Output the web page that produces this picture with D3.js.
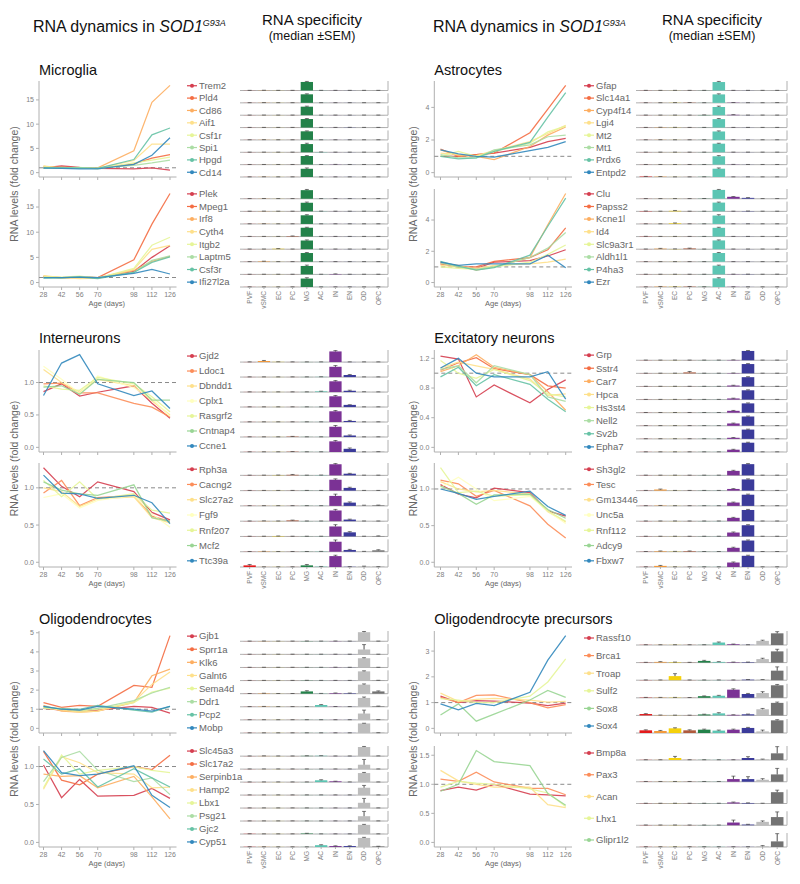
<!DOCTYPE html>
<html><head><meta charset="utf-8">
<script src="https://cdn.jsdelivr.net/npm/d3@7"></script>
<style>body{margin:0;background:#fff}svg{display:block}</style>
</head><body><svg id="c" width="800" height="884"></svg>
<script>
// ---------------- DATA ----------------
const ages=[28,42,56,70,98,112,126];
const cellTypes=["PVF","vSMC","EC","PC","MG","AC","IN","EN","OD","OPC"];
const cellColors=["#e41a1c","#f39a3c","#f5d10c","#b05a3c","#23824a","#5cc5b3","#7b3295","#3b3b9a","#bdbdbd","#737373"];
const spectral8=["#d53e4f","#f46d43","#fdae61","#fee08b","#e6f598","#abdda4","#66c2a5","#3288bd"];
const spectral7=["#d53e4f","#fc8d59","#fee08b","#ffffbf","#e6f598","#99d594","#3288bd"];
const spectral6=["#d53e4f","#fc8d59","#fee08b","#e6f598","#99d594","#3288bd"];

// Microglia
const mgGenesA=["Trem2","Pld4","Cd86","Aif1","Csf1r","Spi1","Hpgd","Cd14"];
const mgFoldA=[[1.0,1.4,1.1,0.9,0.8,1.0,0.5],[1.1,1.2,1.0,0.9,1.8,3.0,3.7],[1.3,1.0,0.9,1.0,4.5,14.5,18.0],[1.4,0.9,1.0,0.9,2.5,5.9,5.9],[1.2,1.0,1.1,0.8,2.0,2.6,3.2],[1.0,1.1,0.9,1.0,1.5,2.0,2.6],[0.9,1.0,1.0,0.9,2.7,7.8,9.2],[1.0,0.9,0.8,0.8,1.7,3.6,7.2]];
const mgSpecA=[[.01,.02,.01,.01,1,.01,.01,.01,.01,.01],[.01,.02,.01,.01,1,.01,.01,.01,.01,.01],[.01,.01,.01,.01,1,.01,.01,.01,.01,.01],[.01,.01,.01,.01,1,.01,.01,.02,.01,.01],[.01,.02,.01,.01,1,.01,.01,.01,.01,.01],[.01,.01,.01,.01,1,.03,.01,.01,.01,.01],[.01,.01,.01,.01,1,.01,.02,.01,.01,.01],[.01,.02,.01,.01,1,.01,.01,.01,.01,.01]];
const mgSemA=[[.01,.01,.01,.01,.06,.01,.01,.01,.01,.01],[.01,.01,.01,.01,.06,.01,.01,.01,.01,.01],[.01,.01,.01,.01,.06,.01,.01,.01,.01,.01],[.01,.01,.01,.01,.06,.01,.01,.01,.01,.01],[.01,.01,.01,.01,.05,.01,.01,.01,.01,.01],[.01,.01,.01,.01,.1,.01,.01,.01,.01,.01],[.01,.01,.01,.01,.05,.01,.01,.01,.01,.01],[.01,.01,.01,.01,.1,.01,.01,.01,.01,.01]];
const mgGenesB=["Plek","Mpeg1","Irf8","Cyth4","Itgb2","Laptm5","Csf3r","Ifi27l2a"];
const mgFoldB=[[1.2,1.0,1.0,0.9,2.2,5.0,7.3],[1.1,1.0,1.2,1.0,4.5,11.6,17.7],[1.3,0.9,1.1,1.0,2.4,4.2,5.2],[1.4,1.0,0.8,0.9,2.6,6.6,7.4],[1.2,1.1,1.3,0.9,2.8,7.4,9.0],[1.0,0.9,1.2,1.0,2.0,4.4,5.3],[0.9,1.0,1.1,0.8,2.0,4.0,5.1],[1.0,1.0,1.1,1.0,1.8,2.6,1.7]];
const mgSpecB=[[.01,.02,.01,.01,1,.01,.01,.01,.01,.01],[.01,.02,.01,.01,1,.02,.01,.01,.01,.01],[.01,.02,.01,.01,1,.01,.01,.01,.01,.01],[.01,.01,.01,.05,1,.01,.01,.01,.01,.01],[.01,.01,.05,.01,1,.01,.01,.01,.01,.01],[.01,.05,.01,.01,1,.01,.01,.01,.01,.01],[.01,.01,.01,.01,1,.01,.04,.01,.01,.01],[.01,.01,.01,.01,1,.01,.01,.01,.01,.01]];
const mgSemB=[[.01,.01,.01,.01,.08,.01,.01,.01,.01,.01],[.01,.01,.01,.01,.08,.01,.01,.01,.01,.01],[.01,.01,.01,.01,.07,.01,.01,.01,.01,.01],[.01,.01,.01,.02,.05,.01,.01,.01,.01,.01],[.01,.01,.02,.01,.07,.01,.01,.01,.01,.01],[.01,.02,.01,.01,.06,.01,.01,.01,.01,.01],[.01,.01,.01,.01,.1,.01,.02,.01,.01,.01],[.01,.01,.01,.01,.1,.01,.01,.01,.01,.01]];

// Astrocytes
const acGenesA=["Gfap","Slc14a1","Cyp4f14","Lgi4","Mt2","Mt1","Prdx6","Entpd2"];
const acFoldA=[[1.0,1.0,1.1,1.2,1.55,1.9,2.1],[1.45,1.0,1.1,1.2,2.45,3.9,5.35],[1.4,1.05,1.0,0.8,1.6,2.3,2.8],[1.2,1.1,1.05,1.35,1.9,2.4,2.9],[1.0,1.3,1.0,1.3,1.8,2.5,2.85],[1.1,0.9,0.9,1.4,1.7,2.2,2.3],[1.0,0.85,0.9,1.3,1.85,3.4,4.9],[1.4,1.15,1.0,0.95,1.35,1.55,1.9]];
const acSpecA=[[.01,.01,.01,.01,.01,1,.01,.01,.01,.01],[.01,.01,.02,.03,.01,1,.03,.01,.01,.02],[.01,.01,.01,.01,.03,1,.05,.01,.01,.01],[.01,.03,.02,.01,.01,1,.01,.01,.01,.01],[.01,.02,.01,.01,.01,1,.01,.01,.01,.01],[.01,.01,.01,.01,.01,1,.01,.01,.01,.01],[.01,.01,.01,.01,.01,1,.02,.01,.01,.01],[.05,.04,.01,.01,.02,1,.01,.01,.01,.01]];
const acSemA=[[.01,.01,.01,.01,.01,.07,.01,.01,.01,.01],[.01,.01,.01,.01,.01,.07,.01,.01,.01,.01],[.01,.01,.01,.01,.01,.1,.02,.01,.01,.01],[.01,.01,.01,.01,.01,.07,.01,.01,.01,.01],[.01,.01,.01,.01,.01,.07,.01,.01,.01,.01],[.01,.01,.01,.01,.01,.05,.01,.01,.01,.01],[.01,.01,.01,.01,.01,.08,.01,.01,.01,.01],[.02,.02,.01,.01,.01,.09,.01,.01,.01,.01]];
const acGenesB=["Clu","Papss2","Kcne1l","Id4","Slc9a3r1","Aldh1l1","P4ha3","Ezr"];
const acFoldB=[[1.2,1.0,0.9,1.3,1.4,1.7,2.1],[1.3,1.0,1.0,1.35,1.6,2.1,3.5],[1.2,1.1,0.8,1.0,1.6,3.7,5.7],[1.1,1.0,0.9,1.1,1.2,1.3,1.5],[1.0,0.9,0.85,1.0,1.3,1.8,2.4],[1.25,1.0,0.85,1.0,1.6,2.2,3.2],[1.35,1.05,0.8,0.95,1.75,3.6,5.4],[1.3,1.1,1.2,1.2,1.2,1.75,0.95]];
const acSpecB=[[.01,.01,.01,.01,.02,1,.22,.1,.01,.01],[.03,.01,.06,.01,.01,1,.01,.03,.01,.01],[.01,.01,.07,.01,.01,1,.01,.01,.01,.01],[.02,.01,.01,.01,.01,1,.01,.01,.01,.01],[.01,.06,.02,.08,.01,1,.01,.01,.01,.01],[.01,.01,.01,.01,.01,1,.01,.01,.01,.01],[.01,.01,.01,.01,.01,1,.02,.02,.01,.02],[.01,.04,.03,.04,.02,1,.02,.01,.01,.01]];
const acSemB=[[.01,.01,.01,.01,.01,.05,.03,.03,.01,.01],[.01,.01,.04,.01,.01,.06,.01,.01,.01,.01],[.01,.01,.05,.01,.01,.1,.01,.01,.01,.01],[.01,.01,.01,.01,.01,.06,.01,.01,.01,.01],[.01,.03,.01,.04,.01,.06,.01,.01,.01,.01],[.01,.01,.01,.01,.01,.06,.01,.01,.01,.01],[.01,.01,.01,.01,.01,.06,.01,.01,.01,.01],[.01,.02,.01,.02,.01,.07,.01,.01,.01,.01]];

// Interneurons
const inGenesA=["Gjd2","Ldoc1","Dbndd1","Cplx1","Rasgrf2","Cntnap4","Ccne1"];
const inFoldA=[[0.86,0.98,0.79,0.85,0.95,0.68,0.45],[0.98,0.99,0.84,0.84,0.68,0.62,0.47],[1.2,1.0,0.85,1.05,0.95,0.72,0.5],[1.25,1.05,0.83,1.1,0.92,0.75,0.48],[0.95,0.9,0.88,1.08,0.98,0.78,0.55],[0.93,0.95,0.82,1.05,1.0,0.73,0.73],[0.8,1.3,1.43,0.98,0.8,0.87,0.6]];
const inSpecA=[[.01,.1,.02,.01,.01,.01,1,.01,.01,.01],[.01,.01,.01,.01,.01,.02,1,.2,.01,.01],[.01,.01,.01,.01,.01,.06,1,.12,.02,.01],[.01,.01,.01,.01,.01,.01,1,.2,.01,.01],[.01,.01,.01,.01,.01,.01,1,.1,.01,.01],[.01,.01,.01,.04,.01,.01,1,.15,.01,.01],[.01,.01,.01,.03,.01,.01,1,.3,.01,.02]];
const inSemA=[[.01,.05,.01,.01,.01,.01,.08,.01,.01,.01],[.01,.01,.01,.01,.01,.01,.12,.05,.01,.01],[.01,.01,.01,.01,.01,.02,.07,.05,.01,.01],[.01,.01,.01,.01,.01,.01,.07,.02,.01,.01],[.01,.01,.01,.01,.01,.01,.07,.05,.01,.01],[.01,.01,.01,.02,.01,.01,.12,.05,.01,.01],[.01,.01,.01,.01,.01,.01,.08,.08,.01,.01]];
const inGenesB=["Rph3a","Cacng2","Slc27a2","Fgf9","Rnf207","Mcf2","Ttc39a"];
const inFoldB=[[1.27,1.02,0.88,1.08,0.95,0.67,0.57],[0.93,1.1,0.76,0.87,0.9,0.62,0.55],[1.0,0.95,0.75,0.85,0.88,0.6,0.53],[0.87,0.92,0.73,0.83,0.9,0.65,0.47],[1.1,0.88,1.08,0.85,0.92,0.7,0.66],[1.08,0.97,0.92,0.9,1.04,0.6,0.55],[1.17,0.93,0.92,0.86,0.9,0.8,0.52]];
const inSpecB=[[.01,.01,.02,.05,.01,.02,1,.15,.01,.01],[.01,.01,.01,.01,.01,.01,1,.25,.01,.01],[.01,.01,.01,.01,.01,.01,.85,.28,.04,.05],[.01,.02,.01,.07,.01,.01,1,.15,.01,.01],[.01,.01,.03,.01,.01,.01,.85,.35,.01,.03],[.01,.03,.01,.01,.01,.02,.85,.15,.02,.12],[.15,.01,.01,.01,.15,.03,1,.02,.05,.02]];
const inSemB=[[.01,.01,.01,.03,.01,.01,.06,.03,.01,.01],[.01,.01,.01,.01,.01,.01,.08,.06,.01,.01],[.01,.01,.01,.01,.01,.01,.15,.06,.02,.02],[.01,.01,.01,.03,.01,.01,.1,.04,.01,.01],[.01,.01,.01,.01,.01,.01,.15,.06,.01,.02],[.01,.01,.01,.01,.01,.01,.15,.05,.01,.05],[.08,.01,.01,.01,.08,.02,.08,.01,.03,.01]];

// Excitatory neurons
const enGenesA=["Grp","Sstr4","Car7","Hpca","Hs3st4","Nell2","Sv2b","Epha7"];
const enFoldA=[[1.23,1.19,0.68,0.84,0.6,0.78,0.91],[1.04,1.14,1.21,1.06,0.98,0.83,0.8],[1.02,1.1,1.25,1.08,0.98,0.75,0.5],[1.07,1.15,1.1,1.05,0.92,0.7,0.72],[1.17,1.0,0.93,1.05,0.9,0.72,0.68],[1.05,1.1,0.87,1.1,0.98,0.68,0.62],[0.95,1.08,0.83,0.98,0.85,0.65,0.48],[1.07,1.2,1.0,0.95,0.95,1.02,0.65]];
const enSpecA=[[.01,.01,.01,.01,.01,.01,.03,1,.01,.01],[.01,.01,.01,.1,.01,.01,.03,1,.01,.01],[.01,.01,.01,.01,.01,.01,.1,1,.01,.01],[.01,.01,.01,.01,.01,.01,.12,1,.01,.01],[.01,.01,.01,.01,.01,.01,.2,1,.01,.01],[.01,.01,.01,.01,.01,.01,.25,1,.01,.01],[.01,.01,.01,.01,.01,.01,.12,1,.01,.01],[.01,.01,.01,.01,.01,.01,.25,1,.01,.01]];
const enSemA=[[.01,.01,.01,.01,.01,.01,.01,.05,.01,.01],[.01,.01,.01,.1,.01,.01,.01,.05,.01,.01],[.01,.01,.01,.01,.01,.01,.03,.05,.01,.01],[.01,.01,.01,.01,.01,.01,.03,.05,.01,.01],[.01,.01,.01,.01,.01,.01,.04,.05,.01,.01],[.01,.01,.01,.01,.01,.01,.04,.05,.01,.01],[.01,.01,.01,.01,.01,.01,.03,.05,.01,.01],[.01,.01,.01,.01,.01,.01,.04,.05,.01,.01]];
const enGenesB=["Sh3gl2","Tesc","Gm13446","Unc5a","Rnf112","Adcy9","Fbxw7"];
const enFoldB=[[1.06,0.93,0.88,1.01,0.95,0.7,0.63],[1.12,1.07,0.9,0.98,0.77,0.52,0.33],[1.1,1.0,0.96,0.98,0.93,0.69,0.55],[1.02,1.16,1.0,0.84,0.9,0.7,0.53],[1.29,0.95,0.97,0.9,0.92,0.7,0.56],[1.04,0.94,0.79,0.92,0.93,0.72,0.6],[1.0,0.94,0.86,0.9,0.97,0.76,0.64]];
const enSpecB=[[.01,.01,.01,.01,.01,.01,.4,1,.01,.01],[.01,.1,.01,.01,.01,.01,.15,1,.01,.01],[.01,.03,.01,.01,.01,.01,.3,1,.01,.01],[.01,.01,.01,.01,.01,.01,.3,1,.01,.01],[.01,.01,.01,.01,.01,.01,.35,1,.01,.01],[.01,.05,.02,.05,.01,.01,.35,1,.01,.01],[.01,.1,.01,.01,.01,.01,.4,1,.01,.01]];
const enSemB=[[.01,.01,.01,.01,.01,.01,.05,.05,.01,.01],[.01,.04,.01,.01,.01,.01,.03,.05,.01,.01],[.01,.01,.01,.01,.01,.01,.04,.05,.01,.01],[.01,.01,.01,.01,.01,.01,.04,.05,.01,.01],[.01,.01,.01,.01,.01,.01,.05,.05,.01,.01],[.01,.02,.01,.02,.01,.01,.05,.05,.01,.01],[.01,.04,.01,.01,.01,.01,.05,.05,.01,.01]];

// Oligodendrocytes
const odGenesA=["Gjb1","Sprr1a","Klk6","Galnt6","Sema4d","Ddr1","Pcp2","Mobp"];
const odFoldA=[[1.05,0.95,0.9,0.95,1.15,1.1,0.8],[1.35,1.1,1.2,1.15,2.25,2.15,4.85],[1.2,0.9,0.85,0.9,1.35,2.75,3.1],[1.1,0.95,0.85,0.9,1.4,2.3,2.95],[1.05,1.0,0.9,1.0,1.35,1.9,2.1],[1.1,1.05,0.95,1.05,1.45,1.85,2.15],[1.15,1.0,1.0,1.2,0.95,0.85,1.15],[1.15,1.0,0.95,1.15,1.0,0.9,1.15]];
const odSpecA=[[.01,.02,.01,.01,.02,.01,.02,.01,1,.01],[.01,.01,.01,.01,.01,.01,.01,.01,.55,.01],[.01,.01,.01,.01,.01,.01,.02,.01,1,.01],[.01,.01,.01,.01,.02,.01,.01,.01,1,.02],[.01,.04,.01,.01,.25,.02,.06,.05,1,.25],[.01,.03,.01,.01,.01,.2,.02,.01,1,.06],[.01,.01,.01,.01,.01,.01,.01,.01,.65,.02],[.01,.01,.01,.01,.01,.01,.01,.01,1,.02]];
const odSemA=[[.01,.01,.01,.01,.01,.01,.01,.01,.08,.01],[.01,.01,.01,.01,.01,.01,.01,.01,.55,.01],[.01,.01,.01,.01,.01,.01,.01,.01,.06,.01],[.01,.01,.01,.01,.01,.01,.01,.01,.06,.01],[.01,.01,.01,.01,.08,.01,.02,.02,.08,.06],[.01,.01,.01,.01,.01,.05,.01,.01,.1,.02],[.01,.01,.01,.01,.01,.01,.01,.01,.35,.01],[.01,.01,.01,.01,.01,.01,.01,.01,.02,.01]];
const odGenesB=["Slc45a3","Slc17a2","Serpinb1a","Hamp2","Lbx1","Psg21","Gjc2","Cyp51"];
const odFoldB=[[1.02,0.59,0.83,0.61,0.62,0.71,0.58],[1.2,0.82,0.76,0.9,1.0,0.96,1.15],[0.9,0.87,0.88,0.72,0.87,0.6,0.31],[0.7,1.13,1.05,0.92,0.9,0.72,0.73],[0.72,1.15,0.9,0.95,1.0,0.95,0.92],[0.8,1.12,1.2,0.95,0.8,0.85,0.63],[1.1,0.9,0.97,0.73,0.97,0.85,0.73],[1.21,0.92,0.88,0.9,1.01,0.62,0.46]];
const odSpecB=[[.01,.02,.01,.01,.03,.04,.01,.01,1,.02],[.01,.01,.01,.01,.01,.01,.01,.01,.5,.01],[.01,.01,.01,.01,.01,.2,.08,.01,1,.01],[.01,.01,.01,.01,.01,.01,.01,.01,.8,.01],[.01,.01,.01,.01,.01,.01,.01,.01,.6,.01],[.01,.01,.01,.01,.01,.01,.01,.01,.55,.01],[.02,.01,.01,.01,.05,.01,.01,.01,1,.01],[.02,.02,.01,.01,.01,.2,.1,.1,1,.06]];
const odSemB=[[.01,.01,.01,.01,.01,.01,.01,.01,.06,.01],[.01,.01,.01,.01,.01,.01,.01,.01,.6,.01],[.01,.01,.01,.01,.01,.06,.02,.01,.07,.01],[.01,.01,.01,.01,.01,.01,.01,.01,.25,.01],[.01,.01,.01,.01,.01,.01,.01,.01,.5,.01],[.01,.01,.01,.01,.01,.01,.01,.01,.55,.01],[.01,.01,.01,.01,.03,.01,.01,.01,.05,.01],[.01,.01,.01,.01,.01,.05,.03,.03,.06,.02]];

// Oligodendrocyte precursors
const opGenesA=["Rassf10","Brca1","Troap","Sulf2","Sox8","Sox4"];
const opFoldA=[[1.25,1.0,1.08,1.06,0.98,0.88,0.98],[1.2,1.0,1.28,1.3,1.0,0.8,0.92],[1.37,1.05,1.13,1.16,1.1,1.02,1.05],[1.15,1.1,1.0,1.0,1.25,1.8,2.7],[0.52,0.95,0.28,0.55,1.1,1.47,1.2],[0.95,0.72,0.97,0.88,1.4,2.65,3.6]];
const opSpecA=[[.01,.01,.01,.01,.01,.18,.05,.01,.3,.85],[.01,.05,.03,.01,.12,.05,.03,.03,.25,.8],[.01,.01,.3,.01,.01,.01,.01,.04,.04,.7],[.02,.02,.02,.01,.12,.15,.6,.28,.35,.92],[.1,.02,.01,.01,.07,.15,.04,.08,.45,.92],[.2,.15,.35,.2,.25,.18,.25,.38,.12,.95]];
const opSemA=[[.01,.01,.01,.01,.01,.04,.02,.01,.05,.12],[.01,.02,.01,.01,.04,.02,.01,.01,.06,.15],[.01,.01,.18,.01,.01,.01,.01,.01,.01,.28],[.01,.01,.01,.01,.02,.03,.06,.04,.1,.06],[.03,.01,.01,.01,.02,.05,.01,.02,.06,.06],[.04,.04,.04,.04,.04,.04,.04,.04,.1,.05]];
const opGenesB=["Bmp8a","Pax3","Acan","Lhx1","Glipr1l2"];
const opFoldB=[[0.89,0.95,0.9,1.0,0.83,0.82,0.8],[1.09,1.05,1.21,1.04,0.93,0.93,0.82],[1.24,1.06,1.0,0.95,0.95,0.65,0.6],[0.95,1.05,1.02,1.0,0.92,0.85,0.62],[0.88,1.0,1.58,1.39,1.32,0.84,0.64]];
const opSpecB=[[.01,.01,.15,.01,.01,.01,.01,.15,.05,.5],[.01,.01,.01,.01,.01,.01,.2,.2,.15,.55],[.01,.01,.01,.01,.01,.01,.08,.04,.01,.85],[.01,.01,.01,.01,.01,.01,.2,.05,.25,.6],[.01,.01,.01,.01,.01,.01,.01,.01,.05,.4]];
const opSemB=[[.01,.01,.12,.01,.01,.01,.01,.1,.02,.5],[.01,.01,.01,.01,.01,.01,.22,.18,.08,.45],[.01,.01,.01,.01,.01,.01,.03,.01,.01,.15],[.01,.01,.01,.01,.01,.01,.18,.02,.07,.38],[.01,.01,.01,.01,.01,.01,.01,.01,.05,.55]];

// y tick values per panel
const mgTicks=[0,5,10,15], acTicks=[0,2,4], inTicks=[0,0.5,1];
const enTicksA=[0,0.4,0.8,1.2], enTicksB=[0,0.5,1];
const odTicksA=[0,1,2,3,4,5], odTicksB=[0,0.5,1];
const opTicksA=[0,1,2,3], opTicksB=[0,0.5,1,1.5];

// ---------------- LAYOUT ----------------
const FONT='"Liberation Sans",Arial,Helvetica,sans-serif';
const AX="#b0b0b0", TICKTXT="#808080", LEGTXT="#666";
const columns=[
 {x0:39,xa:43.5,xb:170,x1:176.5,legX:187,barX0:240,barX1:388,ylabX:18,headX:33,specX:312},
 {x0:434.3,xa:440.5,xb:565.7,x1:572,legX:584,barX0:636,barX1:787,ylabX:417,headX:433,specX:712}
];
const sections=[
 {t1:81,b1:177,t2:189,b2:287,titleY:75},
 {t1:350,b1:452,t2:463,b2:567,titleY:343},
 {t1:631,b1:733,t2:746,b2:847,titleY:624}
];
const groups=[
 {title:"Microglia",sec:0,col:0,panels:[
   {genes:mgGenesA,fold:mgFoldA,spec:mgSpecA,sem:mgSemA,ticks:mgTicks,pal:spectral8},
   {genes:mgGenesB,fold:mgFoldB,spec:mgSpecB,sem:mgSemB,ticks:mgTicks,pal:spectral8}]},
 {title:"Astrocytes",sec:0,col:1,panels:[
   {genes:acGenesA,fold:acFoldA,spec:acSpecA,sem:acSemA,ticks:acTicks,pal:spectral8},
   {genes:acGenesB,fold:acFoldB,spec:acSpecB,sem:acSemB,ticks:acTicks,pal:spectral8}]},
 {title:"Interneurons",sec:1,col:0,panels:[
   {genes:inGenesA,fold:inFoldA,spec:inSpecA,sem:inSemA,ticks:inTicks,pal:spectral7},
   {genes:inGenesB,fold:inFoldB,spec:inSpecB,sem:inSemB,ticks:inTicks,pal:spectral7}]},
 {title:"Excitatory neurons",sec:1,col:1,panels:[
   {genes:enGenesA,fold:enFoldA,spec:enSpecA,sem:enSemA,ticks:enTicksA,pal:spectral8},
   {genes:enGenesB,fold:enFoldB,spec:enSpecB,sem:enSemB,ticks:enTicksB,pal:spectral7}]},
 {title:"Oligodendrocytes",sec:2,col:0,panels:[
   {genes:odGenesA,fold:odFoldA,spec:odSpecA,sem:odSemA,ticks:odTicksA,pal:spectral8},
   {genes:odGenesB,fold:odFoldB,spec:odSpecB,sem:odSemB,ticks:odTicksB,pal:spectral8}]},
 {title:"Oligodendrocyte precursors",sec:2,col:1,panels:[
   {genes:opGenesA,fold:opFoldA,spec:opSpecA,sem:opSemA,ticks:opTicksA,pal:spectral6},
   {genes:opGenesB,fold:opFoldB,spec:opSpecB,sem:opSemB,ticks:opTicksB,pal:spectral6}]}
];

// ---------------- DRAW ----------------
const svg=d3.select("#c").style("font-family",FONT);

// headers
columns.forEach(C=>{
  const h=svg.append("text").attr("x",C.headX).attr("y",32).attr("font-size",16).attr("fill","#111");
  h.append("tspan").text("RNA dynamics in ");
  h.append("tspan").attr("font-style","italic").text("SOD1");
  h.append("tspan").attr("font-style","italic").attr("font-size",9).attr("dy",-6.5).text("G93A");
  svg.append("text").attr("x",C.specX).attr("y",25).attr("text-anchor","middle").attr("font-size",15).attr("fill","#111").text("RNA specificity");
  svg.append("text").attr("x",C.specX).attr("y",40).attr("text-anchor","middle").attr("font-size",12.5).attr("fill","#111").text("(median \u00B1SEM)");
});

groups.forEach(g=>{
  const S=sections[g.sec], C=columns[g.col];
  svg.append("text").attr("x",C.x0).attr("y",S.titleY).attr("font-size",14.5).attr("fill","#111").text(g.title);
  svg.append("text").attr("transform",`translate(${C.ylabX},${(S.t1+S.b2)/2}) rotate(-90)`)
    .attr("text-anchor","middle").attr("font-size",10.5).attr("fill","#666").text("RNA levels (fold change)");

  g.panels.forEach((p,pi)=>{
    const t=pi?S.t2:S.t1, b=pi?S.b2:S.b1, isBottom=pi===1;
    // ---- line panel ----
    const x=d3.scaleLinear().domain([ages[0],ages[ages.length-1]]).range([C.xa,C.xb]);
    const all=p.fold.flat();
    const lo=Math.min(0,d3.min(all)), hi=d3.max(all), pad=(hi-lo)*0.05;
    const y=d3.scaleLinear().domain([lo-pad,hi+pad]).range([b,t]);
    const G=svg.append("g");
    G.append("line").attr("x1",C.x0).attr("x2",C.x0).attr("y1",t).attr("y2",b).attr("stroke",AX);
    G.append("line").attr("x1",C.x0).attr("x2",C.x1).attr("y1",b).attr("y2",b).attr("stroke",AX);
    const fmt=p.ticks.some(v=>!Number.isInteger(v))?d3.format(".1f"):d3.format("d");
    p.ticks.forEach(v=>{
      G.append("line").attr("x1",C.x0-3).attr("x2",C.x0).attr("y1",y(v)).attr("y2",y(v)).attr("stroke",AX);
      G.append("text").attr("x",C.x0-5).attr("y",y(v)).attr("dy","0.35em").attr("text-anchor","end")
        .attr("font-size",7).attr("fill",TICKTXT).text(fmt(v));
    });
    ages.forEach(a=>{
      G.append("line").attr("x1",x(a)).attr("x2",x(a)).attr("y1",b).attr("y2",b+3).attr("stroke",AX);
      if(isBottom) G.append("text").attr("x",x(a)).attr("y",b+9.5).attr("text-anchor","middle")
        .attr("font-size",7).attr("fill",TICKTXT).text(a);
    });
    if(isBottom) G.append("text").attr("x",(C.xa+C.xb)/2).attr("y",b+19).attr("text-anchor","middle")
      .attr("font-size",7.5).attr("fill","#666").text("Age (days)");
    G.append("line").attr("x1",C.x0).attr("x2",C.x1).attr("y1",y(1)).attr("y2",y(1))
      .attr("stroke","#8a8a8a").attr("stroke-width",1).attr("stroke-dasharray","4,3");
    const line=d3.line().x((d,i)=>x(ages[i])).y(d=>y(d));
    p.fold.forEach((vals,gi)=>{
      G.append("path").attr("d",line(vals)).attr("fill","none").attr("stroke",p.pal[gi])
        .attr("stroke-width",1.25).attr("stroke-opacity",0.9);
    });

    // ---- rows (legend + bars) ----
    const n=p.genes.length, rowH=(b-t)/n, inner=Math.min(rowH-2.5,14);
    const step=n>1?(b-t-inner)/(n-1):0;
    const xb=d3.scaleBand().domain(cellTypes).range([C.barX0+2.5,C.barX1-2.5]).paddingInner(0.14).paddingOuter(0.07);
    p.genes.forEach((gene,gi)=>{
      const rt=t+gi*step, rb=rt+inner, cy=rt+inner/2;
      G.append("line").attr("x1",C.legX).attr("x2",C.legX+10).attr("y1",cy).attr("y2",cy).attr("stroke",p.pal[gi]).attr("stroke-width",1.2);
      G.append("circle").attr("cx",C.legX+5).attr("cy",cy).attr("r",2).attr("fill",p.pal[gi]);
      G.append("text").attr("x",C.legX+12).attr("y",cy).attr("dy","0.35em").attr("font-size",9.5).attr("fill",LEGTXT).text(gene);
      const vals=p.spec[gi], errs=p.sem[gi];
      const ymax=d3.max(vals.map((v,k)=>v+errs[k]))*1.05;
      const ys=d3.scaleLinear().domain([0,ymax]).range([rb,rt]);
      G.append("line").attr("x1",C.barX0).attr("x2",C.barX1).attr("y1",rb).attr("y2",rb).attr("stroke",AX);
      G.append("line").attr("x1",C.barX1).attr("x2",C.barX1).attr("y1",rt).attr("y2",rb).attr("stroke",AX);
      cellTypes.forEach((ct,k)=>{
        const bx=xb(ct), bw=xb.bandwidth();
        G.append("rect").attr("x",bx).attr("width",bw).attr("y",ys(vals[k])).attr("height",rb-ys(vals[k])).attr("fill",cellColors[k]);
        const ex=bx+bw/2, ey=ys(vals[k]+errs[k]);
        G.append("line").attr("x1",ex).attr("x2",ex).attr("y1",ys(vals[k])).attr("y2",ey).attr("stroke","#222").attr("stroke-width",0.8);
        G.append("line").attr("x1",ex-2).attr("x2",ex+2).attr("y1",ey).attr("y2",ey).attr("stroke","#333").attr("stroke-width",0.9).attr("stroke-opacity",0.7);
      });
      if(isBottom && gi===n-1){
        cellTypes.forEach(ct=>{
          const cx=xb(ct)+xb.bandwidth()/2;
          G.append("line").attr("x1",cx).attr("x2",cx).attr("y1",rb).attr("y2",rb+2).attr("stroke",AX);
          G.append("text").attr("transform",`translate(${cx+2.3},${rb+4}) rotate(-90)`).attr("text-anchor","end")
            .attr("font-size",6.5).attr("fill",TICKTXT).text(ct);
        });
      }
    });
  });
});
</script></body></html>
